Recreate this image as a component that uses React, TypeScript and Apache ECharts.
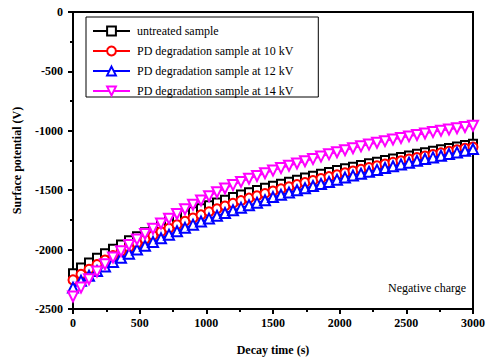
import React, { useEffect, useRef } from "react";
import * as echarts from "echarts";

const times: number[] = [
  0, 60, 120, 180, 240, 300, 360, 420, 480, 540, 600, 660, 720, 780, 840, 900, 960, 1020, 1080, 1140,
  1200, 1260, 1320, 1380, 1440, 1500, 1560, 1620, 1680, 1740, 1800, 1860, 1920, 1980, 2040, 2100, 2160,
  2220, 2280, 2340, 2400, 2460, 2520, 2580, 2640, 2700, 2760, 2820, 2880, 2940, 3000,
];

const untreated: number[] = [
  -2200, -2150, -2108, -2068, -2030, -1993, -1957, -1922, -1888, -1855, -1823, -1792, -1762, -1733,
  -1705, -1678, -1652, -1627, -1603, -1580, -1558, -1537, -1517, -1498, -1480, -1462, -1445, -1428,
  -1411, -1394, -1378, -1362, -1346, -1331, -1316, -1302, -1288, -1274, -1260, -1246, -1233, -1220,
  -1207, -1194, -1181, -1168, -1156, -1144, -1132, -1120, -1108,
];

const pd10kV: number[] = [
  -2255, -2208, -2166, -2126, -2088, -2051, -2015, -1980, -1946, -1913, -1881, -1850, -1820, -1791,
  -1762, -1735, -1708, -1682, -1657, -1633, -1610, -1588, -1567, -1547, -1528, -1507, -1489, -1471,
  -1453, -1436, -1419, -1402, -1386, -1370, -1354, -1339, -1324, -1309, -1294, -1280, -1266, -1252,
  -1238, -1225, -1212, -1199, -1186, -1173, -1160, -1148, -1136,
];

const pd12kV: number[] = [
  -2320, -2262, -2220, -2180, -2142, -2105, -2069, -2034, -2000, -1967, -1935, -1904, -1874, -1845,
  -1817, -1790, -1764, -1739, -1715, -1692, -1669, -1647, -1626, -1605, -1585, -1558, -1539, -1520,
  -1501, -1483, -1465, -1447, -1430, -1411, -1394, -1377, -1361, -1345, -1329, -1313, -1298, -1283,
  -1268, -1253, -1238, -1224, -1210, -1196, -1182, -1168, -1154,
];

const pd14kV: number[] = [
  -2395, -2320, -2250, -2185, -2124, -2067, -2013, -1962, -1914, -1868, -1824, -1781, -1740, -1700,
  -1661, -1623, -1586, -1550, -1517, -1486, -1457, -1430, -1404, -1380, -1357, -1335, -1314, -1294,
  -1275, -1256, -1238, -1217, -1198, -1180, -1163, -1147, -1131, -1116, -1101, -1087, -1073, -1060,
  -1047, -1035, -1023, -1011, -1000, -989, -978, -968, -958,
];

const seriesNames: string[] = [
  "untreated sample",
  "PD degradation sample at 10 kV",
  "PD degradation sample at 12 kV",
  "PD degradation sample at 14 kV",
];
const seriesColors: string[] = ["#000000", "#ff0000", "#0000ff", "#ff00ff"];
const seriesSymbols: string[] = ["emptyRect", "emptyCircle", "emptyTriangle", "emptyTriangle"];
const seriesRotate: number[] = [0, 0, 0, 180];
const seriesData: number[][] = [untreated, pd10kV, pd12kV, pd14kV];

const FONT = "Liberation Serif";

export default function App() {
  const ref = useRef<HTMLDivElement>(null);
  useEffect(() => {
    if (!ref.current) return;
    const chart = echarts.init(ref.current, undefined, { renderer: "svg" });
    const series = seriesNames.map((name, i) => ({
      name,
      type: "line",
      data: times.map((t, j) => [t, seriesData[i][j]]),
      symbol: seriesSymbols[i],
      symbolRotate: seriesRotate[i],
      symbolSize: i === 0 ? 8 : i === 1 ? 9 : 10,
      showAllSymbol: true,
      color: seriesColors[i],
      lineStyle: { color: seriesColors[i], width: 1.5 },
      itemStyle: { color: seriesColors[i], borderWidth: 1.6 },
      z: 2 + i,
    }));
    const fmt = (v: number) => String(v);
    chart.setOption({
      animation: false,
      backgroundColor: "#ffffff",
      textStyle: { fontFamily: FONT },
      grid: {
        left: 73,
        top: 12,
        right: 10,
        bottom: 52,
        show: true,
        borderColor: "#000",
        borderWidth: 2,
        backgroundColor: "transparent",
      },
      legend: {
        orient: "vertical",
        left: 86,
        top: 17,
        itemWidth: 37,
        itemHeight: 11,
        itemGap: 8,
        padding: [8, 25, 0, 6],
        borderColor: "#000",
        borderWidth: 1,
        borderRadius: 0,
        textStyle: { fontFamily: FONT, fontSize: 12, color: "#000", padding: [0, 0, 0, 2] },
        data: seriesNames,
      },
      xAxis: {
        type: "value",
        min: 0,
        max: 3000,
        interval: 500,
        name: "Decay time (s)",
        nameLocation: "middle",
        nameGap: 35,
        nameTextStyle: { fontFamily: FONT, fontSize: 12, fontWeight: "bold", color: "#000" },
        axisLine: { show: true, onZero: false, lineStyle: { color: "#000", width: 2 } },
        axisTick: { show: true, inside: false, length: 5, lineStyle: { color: "#000", width: 2 } },
        minorTick: { show: true, splitNumber: 2, length: 3, lineStyle: { color: "#000", width: 2 } },
        splitLine: { show: false },
        axisLabel: { fontFamily: FONT, fontSize: 12, fontWeight: "bold", color: "#000", margin: 8, formatter: fmt },
      },
      yAxis: {
        type: "value",
        min: -2500,
        max: 0,
        interval: 500,
        name: "Surface potential (V)",
        nameLocation: "middle",
        nameGap: 50,
        nameTextStyle: { fontFamily: FONT, fontSize: 12, fontWeight: "bold", color: "#000" },
        axisLine: { show: true, onZero: false, lineStyle: { color: "#000", width: 2 } },
        axisTick: { show: true, inside: false, length: 5, lineStyle: { color: "#000", width: 2 } },
        minorTick: { show: true, splitNumber: 2, length: 3, lineStyle: { color: "#000", width: 2 } },
        splitLine: { show: false },
        axisLabel: { fontFamily: FONT, fontSize: 12, fontWeight: "bold", color: "#000", margin: 10, formatter: fmt },
      },
      graphic: [
        {
          type: "text",
          left: 388,
          top: 282,
          style: { text: "Negative charge", fontFamily: FONT, fontSize: 12, fill: "#000" },
        },
      ],
      series,
    });
    return () => chart.dispose();
  }, []);
  return <div ref={ref} style={{ width: 488, height: 361, position: "absolute", left: 0, top: 0 }} />;
}
